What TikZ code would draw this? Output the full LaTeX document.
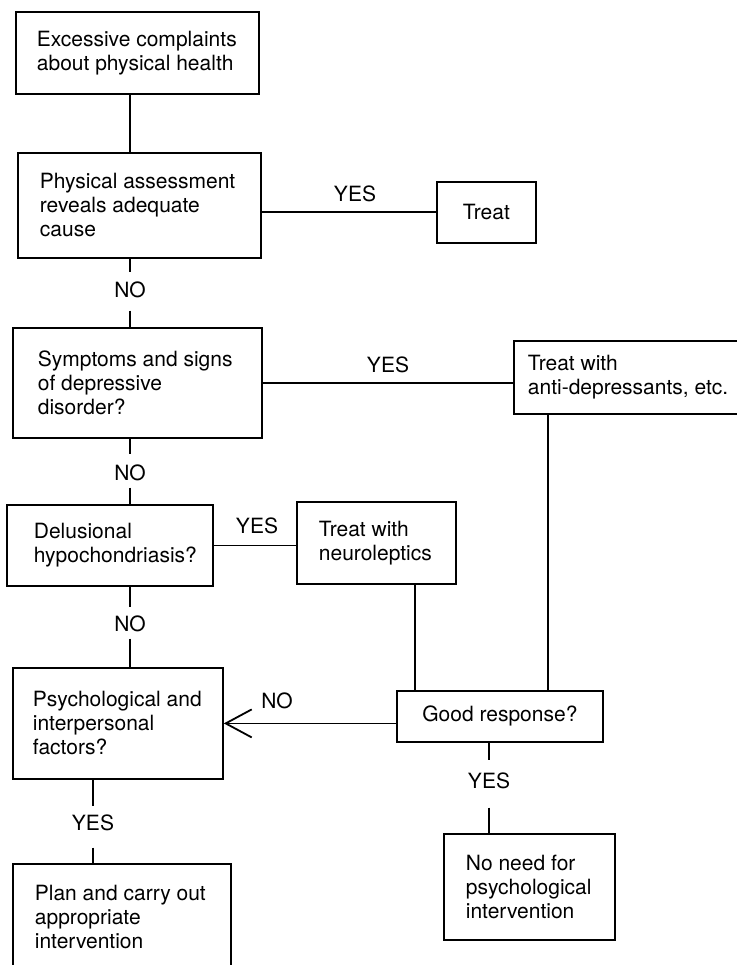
\documentclass[tikz,border=0pt]{standalone}
\usepackage{fontspec}
\setmainfont{TeX Gyre Heros}
\usetikzlibrary{arrows.meta}
% left-indented, ragged-right text block inside a box: indent, block width, text
\newcommand\lcell[3]{\hspace*{#1pt}\parbox[c]{#2pt}{\raggedright #3}}

\begin{document}
\begin{tikzpicture}[x=1pt,y=-1pt,
  every node/.style={font=\fontsize{21}{24}\selectfont, inner sep=0pt},
  flowbox/.style 2 args={draw, line width=1.8pt, anchor=north west,
    minimum width=#1, minimum height=#2},
  answer/.style={anchor=base},
  conn/.style={line width=1.8pt}]

\fill[white] (0,0) rectangle (736,965);
\useasboundingbox (0,0) rectangle (736,965);

% boxes
\node[flowbox={243pt}{82pt}] (b1) at (15,11)
  {\lcell{21}{222}{Excessive complaints\\about physical health}};
\node[flowbox={243pt}{105pt}] (b2) at (17,152)
  {\lcell{22}{221}{Physical assessment\\reveals adequate\\cause}};
\node[flowbox={99pt}{61pt}] (treat) at (436,181) {Treat};
\node[flowbox={249pt}{110pt}] (b3) at (12,327)
  {\lcell{25}{224}{Symptoms and signs\\of depressive\\disorder?}};
\node[flowbox={240pt}{73pt}] (anti) at (513,340)
  {\lcell{14}{226}{Treat with\\anti-depressants, etc.}};
\node[flowbox={206pt}{81pt}] (b4) at (6,504)
  {\lcell{27}{179}{Delusional\\hypochondriasis?}};
\node[flowbox={159pt}{82pt}] (neuro) at (296,501)
  {\lcell{22}{137}{Treat with\\neuroleptics}};
\node[flowbox={210pt}{111pt}] (b5) at (12,667)
  {\lcell{20}{190}{Psychological and\\interpersonal\\factors?}};
\node[flowbox={206pt}{51pt}] (good) at (396,690) {Good response?};
\node[flowbox={171pt}{106pt}] (noneed) at (443,833)
  {\lcell{22}{149}{No need for\\psychological\\intervention}};
\node[flowbox={218pt}{106pt}] (b6) at (12,863)
  {\lcell{22}{196}{Plan and carry out\\appropriate\\intervention}};

% answers
\node[answer] (y1) at (355,202) {YES};
\node[answer] (n1) at (130,298) {NO};
\node[answer] (y2) at (388,372) {YES};
\node[answer] (n2) at (130,480) {NO};
\node[answer] (y3) at (257,533) {YES};
\node[answer] (n3) at (130,631) {NO};
\node[answer] (n4) at (277,708) {NO};
\node[answer] (y4) at (489,788) {YES};
\node[answer] (y5) at (93,830) {YES};

% main column
\draw[conn] (b1.south -| n1) -- (b2.north -| n1);
\draw[conn] (b2.south -| n1) -- ([yshift=10pt]n1.north);
\draw[conn] ([yshift=-12pt]n1.south) -- (b3.north -| n1);
\draw[conn] (b3.south -| n2) -- ([yshift=10pt]n2.north);
\draw[conn] ([yshift=-7pt]n2.south) -- (b4.north -| n2);
\draw[conn] (b4.south -| n3) -- ([yshift=8pt]n3.north);
\draw[conn] ([yshift=-7pt]n3.south) -- (b5.north -| n3);
\draw[conn] (b5.south -| y5) -- ([yshift=8pt]y5.north);
\draw[conn] ([yshift=-17pt]y5.south) -- (b6.north -| y5);

% branches
\draw[conn] (treat.west -| b2.east) -- (treat.west);
\draw[conn] (b3.east) -- (b3.east -| anti.west);
\draw[conn] (b4.east) -- (b4.east -| neuro.west);

\coordinate (nx) at ([xshift=38.5pt]neuro.south);
\coordinate (ax) at ([xshift=35pt]anti.south west);
\draw[conn] (nx) -- (nx |- good.north);
\draw[conn] (ax) -- (ax |- good.north);

\draw[conn, -{Straight Barb[length=26pt,width=28pt]}]
  (good.west |- b5.east) -- (b5.east);

\draw[conn] (good.south -| y4) -- ([yshift=12pt]y4.north);
\draw[conn] ([yshift=-19pt]y4.south) -- (noneed.north -| y4);

\end{tikzpicture}
\end{document}
